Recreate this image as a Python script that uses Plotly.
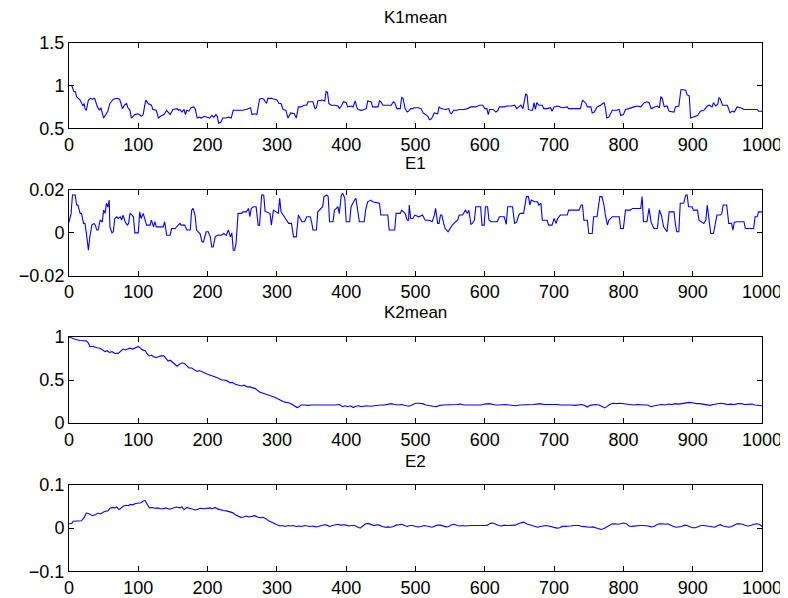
import plotly.graph_objects as go

# ---------------- data ----------------
k1_x = [0,4,7,9,11,14,16,18,20,22,23,25,27,28,31,34,37,39,41,44,46,50,53,56,59,61,64,69,73,75,77,80,83,85,88,90,93,95,99,102,104,107,110,111,114,117,119,121,126,129,132,137,141,143,146,150,156,158,160,163,166,168,170,173,176,180,182,185,188,191,195,199,203,206,209,212,214,216,219,222,226,230,234,237,242,250,256,259,262,264,268,271,275,278,281,285,287,292,297,300,303,306,309,313,316,320,325,328,331,335,339,343,345,352,355,357,359,365,369,371,373,375,378,384,388,390,393,396,400,402,407,410,413,415,417,422,426,429,431,436,438,446,448,450,453,460,465,468,470,473,478,480,482,485,488,490,493,496,498,504,508,511,515,518,520,523,525,527,532,534,537,543,548,550,552,555,560,563,570,575,580,587,592,597,600,603,605,607,612,616,619,621,628,632,638,643,646,650,652,655,659,661,663,666,669,671,673,675,678,683,685,690,695,697,700,705,712,719,721,730,738,741,743,746,748,753,755,758,762,767,772,774,776,779,784,790,794,796,800,803,808,813,815,820,825,830,834,837,840,845,849,852,854,856,859,863,866,873,875,880,883,888,890,892,895,897,900,903,907,911,916,921,924,928,930,933,936,938,940,943,950,954,957,960,964,969,974,980,993,995,1000]
k1_y = [1.0,1.0,0.93,0.93,0.87,0.85,0.83,0.80,0.76,0.79,0.73,0.71,0.78,0.83,0.85,0.84,0.85,0.80,0.75,0.71,0.74,0.62,0.66,0.70,0.79,0.81,0.84,0.85,0.84,0.79,0.73,0.77,0.79,0.74,0.71,0.62,0.64,0.66,0.67,0.66,0.64,0.66,0.80,0.83,0.79,0.78,0.77,0.72,0.71,0.62,0.64,0.66,0.71,0.69,0.66,0.72,0.73,0.71,0.72,0.69,0.72,0.66,0.71,0.70,0.74,0.75,0.73,0.62,0.63,0.62,0.64,0.63,0.62,0.65,0.63,0.66,0.64,0.56,0.57,0.62,0.62,0.63,0.62,0.71,0.71,0.71,0.72,0.73,0.74,0.66,0.67,0.66,0.84,0.85,0.84,0.79,0.85,0.85,0.84,0.83,0.79,0.79,0.72,0.71,0.62,0.68,0.67,0.62,0.75,0.75,0.77,0.77,0.81,0.81,0.73,0.74,0.82,0.83,0.82,0.93,0.92,0.79,0.77,0.77,0.76,0.73,0.76,0.81,0.80,0.75,0.76,0.75,0.82,0.75,0.72,0.71,0.72,0.73,0.82,0.81,0.75,0.75,0.82,0.81,0.77,0.77,0.77,0.81,0.80,0.73,0.73,0.86,0.85,0.73,0.69,0.70,0.73,0.73,0.74,0.74,0.73,0.68,0.66,0.64,0.60,0.61,0.64,0.68,0.67,0.75,0.73,0.72,0.73,0.68,0.67,0.71,0.71,0.72,0.72,0.73,0.75,0.75,0.77,0.77,0.73,0.73,0.66,0.72,0.72,0.69,0.71,0.75,0.75,0.76,0.76,0.77,0.73,0.76,0.77,0.73,0.90,0.89,0.72,0.71,0.71,0.80,0.72,0.80,0.77,0.77,0.73,0.73,0.74,0.70,0.75,0.76,0.74,0.75,0.73,0.73,0.73,0.83,0.81,0.79,0.75,0.75,0.68,0.69,0.75,0.77,0.80,0.74,0.62,0.63,0.71,0.71,0.72,0.65,0.66,0.72,0.73,0.75,0.75,0.76,0.75,0.80,0.81,0.80,0.73,0.75,0.76,0.74,0.87,0.85,0.75,0.76,0.70,0.69,0.75,0.76,0.95,0.95,0.94,0.89,0.88,0.62,0.63,0.64,0.65,0.70,0.71,0.76,0.77,0.75,0.80,0.76,0.78,0.86,0.84,0.77,0.77,0.68,0.70,0.69,0.75,0.74,0.72,0.72,0.72,0.70,0.70]

e1_x = [0,1,3,5,9,11,13,16,18,21,23,25,28,30,33,36,38,40,42,45,48,50,52,54,56,58,59,62,64,66,69,71,74,76,78,81,84,86,88,91,93,95,100,102,104,107,110,112,117,119,122,124,126,131,136,138,141,146,148,153,155,160,162,167,170,175,177,179,182,184,189,192,194,196,198,201,204,206,208,211,215,220,223,227,230,233,235,237,239,241,244,249,251,256,259,261,263,266,270,273,275,278,281,283,285,290,292,295,302,304,306,310,314,317,321,324,328,331,333,336,340,343,348,350,352,357,359,363,366,368,372,374,376,381,383,386,388,390,393,395,398,400,405,407,410,412,414,416,419,422,426,428,431,436,438,448,450,460,462,470,472,478,480,485,488,490,491,493,496,499,505,510,512,514,520,524,527,529,532,534,536,538,541,543,547,550,553,558,561,563,568,572,575,577,580,582,585,587,594,596,599,601,604,606,609,614,618,621,628,631,633,640,643,646,649,651,656,660,663,665,667,672,676,678,681,683,690,692,697,700,703,705,709,719,721,736,739,741,743,748,750,755,757,762,766,769,772,774,777,779,784,794,796,800,803,810,813,825,827,829,834,837,840,844,849,852,855,858,863,866,873,875,877,880,882,887,890,892,894,899,901,907,909,916,919,921,924,926,930,933,935,940,942,944,949,952,956,958,960,964,974,976,978,988,990,993,995,1000]
e1_y = [0.005,0.0067,0.009,0.0177,0.0177,0.013,0.013,0.0091,0.0091,0.0044,0.0044,0.0,-0.0081,-0.002,0.0036,0.0044,0.0036,0.0013,0.0013,0.006,0.005,0.0106,0.0091,0.0138,0.012,0.0153,0.0028,0.0,0.0005,0.0067,0.0075,0.0067,0.0075,0.006,0.0083,0.0052,0.0036,0.0044,0.0091,0.0083,0.0075,0.0,0.0,0.0098,0.0067,0.0091,0.0059,0.0036,0.0036,0.0059,0.0028,0.0052,0.0028,0.0028,0.0028,0.0052,-0.0011,-0.0011,0.002,0.002,0.0028,0.0044,0.0036,0.0036,0.0013,0.0013,0.0106,0.0114,0.008,0.0013,-0.0003,-0.0042,-0.0042,-0.0019,0.0005,0.0005,-0.002,-0.0066,-0.0066,-0.0019,-0.001,-0.0011,-0.0003,-0.0011,0.0013,-0.0019,0.0,-0.0081,-0.0081,-0.005,0.0091,0.0091,0.0098,0.0098,0.0114,0.0075,0.0114,0.0122,0.0122,0.0036,0.0036,0.0177,0.0177,0.01,0.0098,0.0091,0.0036,0.0106,0.0091,0.0161,0.0098,0.0075,0.0059,0.0044,0.0044,-0.0019,-0.0019,0.0083,0.0067,0.0052,0.0052,0.0075,0.0075,0.0052,0.0013,0.0013,0.0098,0.0114,0.0122,0.0169,0.0177,0.0169,0.0052,0.0052,0.0106,0.0114,0.0122,0.009,0.0177,0.0184,0.0161,0.0052,0.0052,0.0122,0.0145,0.0153,0.0161,0.0106,0.0052,0.0052,0.0052,0.0106,0.0145,0.0153,0.0145,0.0138,0.0083,0.0083,0.0013,0.0013,0.0091,0.0091,0.0106,0.0091,0.0059,0.0059,0.013,0.0067,0.0067,0.0083,0.0075,0.0083,0.0067,0.0059,0.0059,0.0052,0.008,0.0114,0.0044,0.0044,0.0083,0.0083,0.004,0.002,0.0005,0.002,0.0036,0.0052,0.006,0.0083,0.0083,0.0106,0.0091,0.0106,0.004,0.0044,0.006,0.0122,0.0122,0.0036,0.0036,0.0122,0.0122,0.006,0.0052,0.0052,0.0052,0.0075,0.0075,0.004,0.0122,0.0122,0.0044,0.005,0.0083,0.0091,0.0091,0.0169,0.0169,0.013,0.0153,0.0145,0.0145,0.013,0.0138,0.0059,0.0059,0.0036,0.0036,0.0067,0.0044,0.0067,0.0083,0.0083,0.0106,0.0106,0.013,0.013,0.0059,0.0059,-0.0003,-0.0003,0.0075,0.0075,0.0169,0.0169,0.013,0.0083,0.0036,0.0059,0.0075,0.0075,0.002,0.002,0.0106,0.0106,0.0114,0.0114,0.0169,0.0052,0.0052,0.0114,0.005,0.002,0.002,0.0106,0.008,0.0028,0.0005,0.0098,0.0098,0.004,0.0005,0.0005,0.0138,0.0138,0.0177,0.0177,0.0122,0.0122,0.0106,0.0106,0.0059,0.0044,0.006,0.013,0.006,-0.0003,-0.0003,0.004,0.0083,0.0083,0.009,0.013,0.013,0.0044,0.0044,0.0013,0.005,0.0052,0.0052,0.002,0.002,0.002,0.0075,0.0075,0.0098,0.0098]

k2_x = [0,3,6,10,16,20,25,28,30,35,40,45,48,52,55,58,62,66,71,74,78,81,84,88,92,96,100,103,106,110,113,116,119,122,126,129,133,137,140,143,146,149,153,156,159,163,167,170,173,177,181,185,188,192,196,199,203,208,212,216,220,224,228,232,236,240,245,249,253,257,261,265,269,272,275,279,282,285,289,293,297,301,305,309,313,317,321,325,329,332,335,340,345,350,355,360,365,370,375,380,385,390,395,398,402,406,410,414,418,422,426,430,435,440,445,450,455,460,465,470,475,480,485,490,495,500,505,510,515,520,525,530,535,540,545,550,555,560,565,570,575,580,585,590,595,600,605,610,615,620,625,630,635,640,645,650,655,660,665,670,675,680,685,690,695,700,705,710,715,720,725,730,735,740,745,748,752,756,760,765,770,773,776,780,785,790,795,800,805,810,815,820,825,830,835,840,845,850,855,860,865,870,875,880,885,890,895,900,905,910,915,920,925,930,935,940,945,950,955,960,965,970,975,980,985,990,995,1000]
k2_y = [1.0,0.99,0.98,0.97,0.96,0.96,0.955,0.93,0.89,0.89,0.875,0.87,0.85,0.83,0.84,0.82,0.83,0.81,0.81,0.83,0.86,0.85,0.86,0.87,0.86,0.88,0.89,0.87,0.85,0.84,0.80,0.78,0.79,0.77,0.76,0.77,0.78,0.78,0.75,0.72,0.73,0.71,0.68,0.66,0.68,0.70,0.69,0.67,0.64,0.64,0.62,0.60,0.61,0.59,0.58,0.57,0.56,0.54,0.53,0.52,0.50,0.50,0.49,0.47,0.47,0.45,0.44,0.43,0.44,0.42,0.42,0.41,0.40,0.38,0.36,0.35,0.34,0.33,0.32,0.31,0.30,0.28,0.27,0.25,0.24,0.235,0.22,0.20,0.18,0.19,0.21,0.21,0.205,0.21,0.21,0.205,0.21,0.21,0.205,0.21,0.21,0.215,0.19,0.20,0.19,0.20,0.18,0.195,0.20,0.19,0.195,0.20,0.195,0.20,0.21,0.21,0.21,0.22,0.225,0.215,0.21,0.215,0.205,0.195,0.21,0.23,0.23,0.225,0.21,0.20,0.195,0.19,0.205,0.21,0.21,0.215,0.21,0.215,0.22,0.21,0.21,0.21,0.205,0.21,0.21,0.22,0.225,0.22,0.21,0.21,0.215,0.215,0.21,0.205,0.20,0.21,0.21,0.215,0.21,0.215,0.22,0.225,0.215,0.215,0.22,0.215,0.215,0.21,0.21,0.215,0.21,0.205,0.21,0.215,0.20,0.185,0.205,0.21,0.215,0.21,0.19,0.175,0.19,0.215,0.23,0.225,0.23,0.225,0.215,0.21,0.21,0.215,0.21,0.21,0.21,0.19,0.20,0.21,0.215,0.21,0.22,0.215,0.225,0.22,0.225,0.235,0.24,0.235,0.225,0.225,0.22,0.21,0.205,0.215,0.22,0.23,0.225,0.215,0.22,0.215,0.225,0.225,0.215,0.215,0.22,0.21,0.205,0.20]

e2_x = [0,4,6,12,18,22,25,28,31,34,38,42,45,48,52,56,59,63,66,69,72,74,78,82,86,88,92,96,100,104,107,110,113,116,120,124,128,132,136,140,145,150,155,160,163,166,170,174,178,182,186,190,195,199,203,207,211,215,219,223,227,232,236,240,244,248,252,256,260,264,268,272,276,280,284,288,292,296,300,304,308,312,316,320,324,328,332,336,340,344,348,352,356,360,364,368,372,376,380,384,388,392,396,400,404,408,412,416,420,424,428,432,436,440,444,448,452,456,460,464,468,472,476,480,484,488,492,496,500,504,508,512,516,520,524,528,532,536,540,544,548,552,556,560,564,568,572,576,580,584,588,592,596,600,604,608,612,616,620,624,628,632,636,640,644,648,652,656,660,664,668,672,676,680,684,688,692,696,700,704,708,712,716,720,724,728,732,736,740,744,748,752,756,760,764,768,772,776,780,784,788,792,796,800,804,808,812,816,820,824,828,832,836,840,844,848,852,856,860,864,868,872,876,880,884,888,892,896,900,904,908,912,916,920,924,928,932,936,940,944,948,952,956,960,964,968,972,976,980,984,988,992,996,1000]
e2_y = [0.010,0.011,0.016,0.016,0.017,0.025,0.035,0.034,0.032,0.029,0.031,0.035,0.033,0.036,0.039,0.040,0.046,0.048,0.047,0.049,0.043,0.045,0.051,0.053,0.052,0.055,0.054,0.057,0.058,0.059,0.063,0.064,0.055,0.047,0.048,0.046,0.047,0.045,0.045,0.047,0.044,0.047,0.049,0.047,0.049,0.043,0.048,0.046,0.044,0.042,0.044,0.046,0.045,0.046,0.047,0.045,0.048,0.044,0.042,0.041,0.040,0.037,0.036,0.031,0.028,0.025,0.026,0.028,0.026,0.027,0.029,0.026,0.024,0.025,0.022,0.017,0.014,0.012,0.008,0.005,0.006,0.004,0.006,0.005,0.006,0.004,0.005,0.004,0.006,0.005,0.004,0.005,0.003,0.004,0.006,0.008,0.007,0.004,0.006,0.008,0.009,0.007,0.008,0.007,0.005,0.006,0.006,0.003,0.0,0.005,0.010,0.011,0.008,0.006,0.008,0.007,0.004,0.002,0.003,0.002,0.004,0.007,0.008,0.009,0.006,0.004,0.006,0.006,0.004,0.003,0.004,0.006,0.005,0.004,0.002,0.005,0.007,0.007,0.005,0.003,0.004,0.008,0.009,0.006,0.005,0.006,0.005,0.006,0.006,0.006,0.006,0.005,0.006,0.006,0.007,0.011,0.012,0.008,0.006,0.005,0.007,0.006,0.006,0.006,0.007,0.010,0.012,0.014,0.010,0.008,0.005,0.003,0.002,0.004,0.005,0.006,0.005,0.003,0.002,0.0,0.001,0.004,0.004,0.004,0.005,0.006,0.006,0.006,0.004,0.003,0.002,0.002,0.003,0.001,-0.002,-0.003,-0.001,0.003,0.006,0.010,0.010,0.009,0.010,0.012,0.011,0.005,0.004,0.005,0.006,0.006,0.006,0.006,0.005,0.003,0.004,0.008,0.010,0.010,0.009,0.010,0.006,0.004,0.002,0.003,0.004,0.007,0.006,0.003,0.001,0.001,0.004,0.006,0.006,0.005,0.004,0.003,0.002,0.006,0.008,0.005,0.003,0.002,0.004,0.008,0.010,0.010,0.009,0.006,0.005,0.006,0.009,0.010,0.009,0.004]

titles = ["K1mean", "E1", "K2mean", "E2"]
x_ticks = list(range(0, 1001, 100))
y_tickvals = [[0.5, 1, 1.5], [-0.02, 0, 0.02], [0, 0.5, 1], [-0.1, 0, 0.1]]
y_ticktext = [["0.5", "1", "1.5"], ["\u22120.02", "0", "0.02"], ["0", "0.5", "1"], ["\u22120.1", "0", "0.1"]]
y_ranges = [[0.5, 1.5], [-0.02, 0.02], [0, 1], [-0.1, 0.1]]

# ---------------- figure ----------------
# the page body has an 8px margin, so the figure is 780x590 and offset by 8px
OFF = 8
W, H = 788 - OFF, 598 - OFF
x_dom = [(69 - OFF) / W, (762 - OFF) / W]
panels_px = [(42.7, 128.3), (190, 275.7), (337, 423), (485, 571.3)]
y_doms = [[1 - (b - OFF) / H, 1 - (t - OFF) / H] for t, b in panels_px]
title_shift = [14, 15, 13, 12]

series = [(k1_x, k1_y), (e1_x, e1_y), (k2_x, k2_y), (e2_x, e2_y)]
fig = go.Figure()
font = dict(family="Liberation Sans, Arial, sans-serif", size=18, color="black")
layout = dict(width=W, height=H, margin=dict(l=0, r=0, t=0, b=0, autoexpand=False),
              paper_bgcolor="white", plot_bgcolor="white", showlegend=False,
              font=font)
annotations = []
for i, (xs, ys) in enumerate(series):
    n = "" if i == 0 else str(i + 1)
    fig.add_trace(go.Scatter(x=xs, y=ys, mode="lines",
                             line=dict(color="#0000ff", width=1.1),
                             xaxis="x" + n, yaxis="y" + n, hoverinfo="skip"))
    layout["xaxis" + n] = dict(domain=x_dom, anchor="y" + n, range=[0, 1000],
                               tickvals=x_ticks, ticktext=[str(v) for v in x_ticks],
                               ticks="inside", ticklen=5, tickcolor="black",
                               showline=True, linecolor="black", linewidth=1,
                               mirror="ticks", showgrid=False, zeroline=False,
                               automargin=False, tickfont=font)
    layout["yaxis" + n] = dict(domain=y_doms[i], anchor="x" + n, range=y_ranges[i],
                               tickvals=y_tickvals[i], ticktext=y_ticktext[i],
                               ticks="inside", ticklen=5, tickcolor="black",
                               showline=True, linecolor="black", linewidth=1,
                               mirror="ticks", showgrid=False, zeroline=False,
                               automargin=False, tickfont=font)
    annotations.append(dict(text=titles[i], x=(x_dom[0] + x_dom[1]) / 2,
                            y=y_doms[i][1], xref="paper", yref="paper",
                            xanchor="center", yanchor="bottom", yshift=title_shift[i],
                            showarrow=False, font=dict(family=font["family"], size=17, color="black")))
layout["annotations"] = annotations
fig.update_layout(**layout)
fig.write_html("out.html")
